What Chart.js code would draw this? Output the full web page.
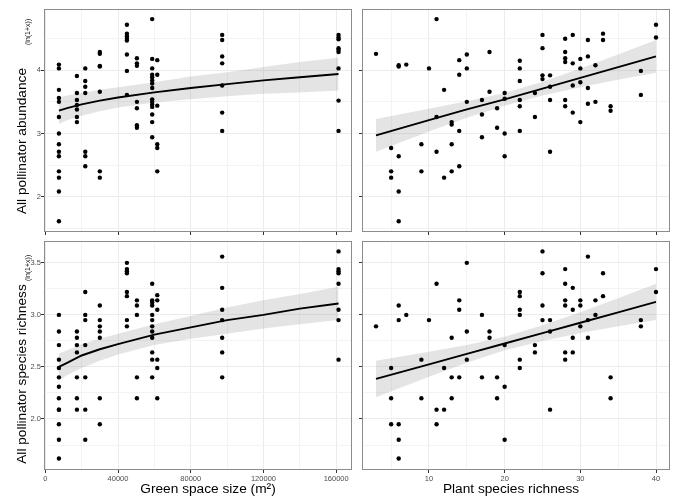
<!DOCTYPE html>
<html><head><meta charset="utf-8">
<script src="https://cdn.jsdelivr.net/npm/chart.js@4/dist/chart.umd.min.js"></script>
<style>
html,body{margin:0;padding:0;background:#fff;}
#wrap{position:relative;width:685px;height:504px;background:#fff;}
canvas{position:absolute;left:0;top:0;}
</style></head><body>
<div id="wrap">
<canvas id="c1" width="685" height="504"></canvas>
<canvas id="c2" width="685" height="504"></canvas>
<canvas id="c3" width="685" height="504"></canvas>
<canvas id="c4" width="685" height="504"></canvas>
</div>
<script>
// ---------------- DATA ----------------
const sizeSites = [7500, 17400, 22000, 30000, 44900, 50400, 58800, 61600, 97300, 161300];

const abundBySize = [
  [4.09,4.03,3.69,3.56,3.50,3.26,3.00,2.83,2.71,2.64,2.40,2.30,2.08,1.61],
  [3.91,3.64,3.53,3.45,3.38,3.26,3.18],
  [4.03,3.83,3.74,3.64,2.71,2.64,2.48],
  [4.29,4.26,4.07,4.06,3.66,2.40,2.30],
  [4.72,4.58,4.54,4.50,4.47,4.25,3.99,3.61],
  [4.19,4.11,4.07,3.50,3.40,3.13,3.09],
  [4.81,4.18,4.03,3.93,3.89,3.84,3.79,3.72,3.54,3.50,3.46,3.42,3.30,3.18,2.94],
  [4.16,3.93,3.44,2.83,2.77,2.40],
  [4.56,4.48,4.22,4.11,3.76,3.33,3.04],
  [4.56,4.52,4.49,4.35,4.32,4.29,4.03,3.52,3.04]
];

const richBySize = [
  [3.00,2.84,2.71,2.57,2.49,2.40,2.31,2.20,2.09,2.09,1.95,1.80,1.62],
  [2.84,2.78,2.71,2.64,2.40,2.20,2.09],
  [3.22,3.00,2.95,2.71,2.40,2.09,1.80],
  [3.09,2.95,2.89,2.84,2.78,2.20,1.95],
  [3.50,3.44,3.42,3.40,3.22,3.18,2.95,2.89],
  [3.14,3.09,3.00,2.40,2.20],
  [3.30,3.14,3.12,3.09,3.00,2.95,2.89,2.84,2.78,2.64,2.57,2.40],
  [3.19,3.14,3.05,2.57,2.49,2.20],
  [3.56,3.26,3.05,2.95,2.78,2.64,2.40],
  [3.61,3.44,3.42,3.40,3.30,3.05,2.95,2.57]
];

const plantAbundX = [3,11,6,6,7,10,14,15,15,14,18,12,15,17,18,20,20,11,13,13,17,19,14,17,19,20,5,6,9,11,13,20,5,5,9,12,13,14,6,6,
  22,22,22,22,22,22,25,25,25,25,24,24,26,26,26,26,28,28,28,28,28,28,29,29,29,29,30,30,30,30,31,31,31,31,32,32,33,33,34,34,38,38,40,40];
const plantAbundY = [4.26,4.81,4.08,4.06,4.09,4.03,4.16,4.25,4.03,3.93,4.29,3.69,3.50,3.53,3.66,3.64,3.55,3.26,3.18,3.14,3.30,3.40,3.04,2.94,3.09,3.00,2.77,2.64,2.83,2.71,2.83,2.64,2.40,2.30,2.40,2.30,2.40,2.48,2.08,1.61,
  4.15,4.03,3.83,3.53,3.43,3.04,4.56,4.35,3.92,3.86,3.64,3.26,3.92,3.74,3.53,2.71,4.50,4.29,4.19,4.13,3.53,3.43,4.56,4.11,3.76,3.33,4.18,4.03,3.81,3.18,4.48,4.22,3.72,3.47,4.08,3.50,4.58,4.48,3.43,3.36,3.99,3.61,4.72,4.52];

const plantRichX = [3,15,11,6,6,7,10,14,14,17,15,13,18,18,20,9,15,5,12,13,14,17,19,20,5,9,13,19,11,12,5,6,11,6,20,6,
  25,31,28,25,33,40,28,29,22,22,33,40,28,28,30,30,32,25,29,22,22,32,25,26,31,30,38,38,26,29,31,24,24,28,29,22,28,22,34,34,26];
const plantRichY = [2.89,3.50,3.30,3.09,2.95,3.00,2.95,3.14,3.05,3.00,2.84,2.78,2.84,2.78,2.71,2.57,2.57,2.49,2.49,2.40,2.40,2.40,2.40,2.31,2.20,2.20,2.20,2.20,2.09,2.09,1.95,1.95,1.95,1.80,1.80,1.62,
  3.61,3.56,3.44,3.40,3.40,3.44,3.30,3.26,3.22,3.18,3.18,3.22,3.14,3.09,3.14,3.09,3.14,3.09,3.05,3.05,3.00,3.00,2.95,2.95,2.95,2.89,2.95,2.89,2.84,2.78,2.78,2.71,2.64,2.64,2.64,2.57,2.57,2.49,2.40,2.20,2.09];

// fitted curves and 95% bands
const sizeFitX     = [7500, 12000, 20000, 30000, 40000, 60000, 80000, 100000, 120000, 140000, 161300];
const abundSizeFit = [3.36, 3.40, 3.46, 3.52, 3.57, 3.65, 3.72, 3.78, 3.84, 3.89, 3.94];
const abundSizeLo  = [3.15, 3.21, 3.28, 3.35, 3.41, 3.49, 3.54, 3.59, 3.63, 3.65, 3.68];
const abundSizeHi  = [3.57, 3.60, 3.64, 3.69, 3.73, 3.81, 3.90, 3.97, 4.05, 4.13, 4.20];
const richSizeFit  = [2.50, 2.54, 2.61, 2.67, 2.72, 2.81, 2.88, 2.95, 3.00, 3.06, 3.11];
const richSizeLo   = [2.37, 2.42, 2.49, 2.56, 2.62, 2.71, 2.77, 2.82, 2.87, 2.91, 2.95];
const richSizeHi   = [2.63, 2.66, 2.72, 2.77, 2.82, 2.91, 2.99, 3.07, 3.14, 3.20, 3.27];

const plantFitX     = [3, 10, 15, 20, 25, 30, 35, 40];
const abundPlantFit = [2.97, 3.21, 3.38, 3.54, 3.71, 3.88, 4.05, 4.22];
const abundPlantLo  = [2.71, 3.03, 3.25, 3.44, 3.60, 3.73, 3.85, 3.96];
const abundPlantHi  = [3.23, 3.39, 3.51, 3.64, 3.82, 4.03, 4.25, 4.48];
const richPlantFit  = [2.385, 2.525, 2.625, 2.725, 2.825, 2.925, 3.025, 3.125];
const richPlantLo   = [2.21, 2.405, 2.54, 2.66, 2.75, 2.825, 2.89, 2.95];
const richPlantHi   = [2.56, 2.645, 2.71, 2.79, 2.90, 3.025, 3.16, 3.30];

// ticks
const sizeTicks = [0, 20000, 40000, 60000, 80000, 100000, 120000, 140000, 160000];
const sizeTickLabels = ['0', '', '40000', '', '80000', '', '120000', '', '160000'];
const plantTicks = [5, 10, 15, 20, 25, 30, 35, 40];
const plantTickLabels = ['', '10', '', '20', '', '30', '', '40'];
const abundTicks = [1.5, 2, 2.5, 3, 3.5, 4, 4.5];
const abundTickLabels = ['', '2', '', '3', '', '4', ''];
const richTicks = [1.75, 2, 2.25, 2.5, 2.75, 3, 3.25, 3.5];
const richTickLabels = ['', '2.0', '', '2.5', '', '3.0', '', '3.5'];

// ---------------- DRAWING ----------------
const FONT = '"Liberation Sans", Arial, Helvetica, sans-serif';
const W = 685, H = 504;
const fromGroups = (xs, groups) => groups.flatMap((g, i) => g.map(y => ({x: xs[i], y})));
const zip = (xs, ys) => xs.map((x, i) => ({x, y: ys[i]}));

function axisCfg(min, max, ticks, labels, showLabels, isX, size) {
  const major = v => labels[ticks.indexOf(v)] !== '';
  return {
    type: 'linear', min, max,
    afterBuildTicks: ax => { ax.ticks = ticks.map(v => ({value: v})); },
    afterFit: ax => {
      if (isX) { ax.height = size; ax.paddingLeft = 0; ax.paddingRight = 0; }
      else { ax.width = size; ax.paddingTop = 0; ax.paddingBottom = 0; }
    },
    ticks: {
      callback: (v) => showLabels ? labels[ticks.indexOf(v)] : '',
      color: '#4D4D4D', padding: isX ? 1 : 0, maxRotation: 0, autoSkip: false,
      font: {family: FONT, size: 7.5}
    },
    grid: {
      color: c => major(c.tick.value) ? '#EBEBEB' : '#F3F3F3',
      lineWidth: 1,
      tickColor: c => major(c.tick.value) ? '#333333' : 'rgba(0,0,0,0)',
      tickLength: 3, tickWidth: 1, drawTicks: true
    },
    border: {display: false}
  };
}

function framePlugin(extra) {
  return {
    id: 'frame',
    afterDraw(chart) {
      const {ctx, chartArea: a} = chart;
      ctx.save();
      ctx.strokeStyle = '#8C8C8C';
      ctx.lineWidth = 1;
      ctx.strokeRect(Math.round(a.left) + 0.5, Math.round(a.top) + 0.5,
        Math.round(a.right - a.left) - 1, Math.round(a.bottom - a.top) - 1);
      ctx.fillStyle = '#000';
      if (extra.yTitle) {
        const t = extra.yTitle;
        ctx.save();
        ctx.translate(t.x, t.cy); ctx.rotate(-Math.PI / 2);
        ctx.font = '13.7px ' + FONT; ctx.textAlign = 'center'; ctx.textBaseline = 'alphabetic';
        ctx.fillText(t.main, 0, 0);
        ctx.restore();
        ctx.save();
        ctx.translate(t.subX, t.subY); ctx.rotate(-Math.PI / 2);
        ctx.font = '7px ' + FONT; ctx.textAlign = 'left'; ctx.textBaseline = 'alphabetic';
        ctx.fillText(t.sub, 0, 0);
        ctx.restore();
      }
      if (extra.xTitle) {
        const t = extra.xTitle;
        ctx.font = '13.7px ' + FONT; ctx.textAlign = 'center'; ctx.textBaseline = 'middle';
        ctx.fillText(t.text, t.cx, t.cy);
      }
      ctx.restore();
    }
  };
}

function panel(id, area, pts, fx, fit, lo, hi, xs, ys, extra) {
  const xAxisH = xs.show ? 20 : 8;
  const yAxisW = ys.show ? area.l : 8;
  new Chart(document.getElementById(id), {
    type: 'line',
    data: {
      datasets: [
        {data: zip(fx, fit), borderColor: '#000', borderWidth: 1.9, pointRadius: 0, fill: false, order: 0, tension: 0},
        {data: pts, showLine: false, pointRadius: 2.2, pointBackgroundColor: '#000', pointBorderWidth: 0, order: 1},
        {data: zip(fx, lo), borderWidth: 0, borderColor: 'rgba(0,0,0,0)', pointRadius: 0, fill: false, order: 3},
        {data: zip(fx, hi), borderWidth: 0, borderColor: 'rgba(0,0,0,0)', pointRadius: 0, fill: 2,
         backgroundColor: 'rgba(150,150,150,0.26)', order: 2}
      ]
    },
    options: {
      responsive: false, animation: false, devicePixelRatio: 1,
      layout: {padding: {left: area.l - yAxisW, top: area.t, right: W - area.r, bottom: H - area.b - xAxisH}},
      plugins: {legend: {display: false}, tooltip: {enabled: false}},
      scales: {
        x: axisCfg(xs.min, xs.max, xs.ticks, xs.labels, xs.show, true, xAxisH),
        y: axisCfg(ys.min, ys.max, ys.ticks, ys.labels, ys.show, false, yAxisW)
      }
    },
    plugins: [framePlugin(extra)]
  });
}

const sizeX = (show) => ({min: -700, max: 168700, ticks: sizeTicks, labels: sizeTickLabels, show});
const plantX = (show) => ({min: 1.15, max: 41.85, ticks: plantTicks, labels: plantTickLabels, show});
const abundY = (show) => ({min: 1.44, max: 4.97, ticks: abundTicks, labels: abundTickLabels, show});
const richY = (show) => ({min: 1.51, max: 3.71, ticks: richTicks, labels: richTickLabels, show});

panel('c1', {l: 44, t: 9, r: 352, b: 232}, fromGroups(sizeSites, abundBySize),
  sizeFitX, abundSizeFit, abundSizeLo, abundSizeHi, sizeX(false), abundY(true),
  {yTitle: {main: 'All pollinator abundance', x: 25.5, cy: 141, sub: '(ln(1+x))', subX: 30, subY: 45}});
panel('c2', {l: 362, t: 9, r: 670, b: 232}, zip(plantAbundX, plantAbundY),
  plantFitX, abundPlantFit, abundPlantLo, abundPlantHi, plantX(false), abundY(false), {});
panel('c3', {l: 44, t: 241, r: 352, b: 470}, fromGroups(sizeSites, richBySize),
  sizeFitX, richSizeFit, richSizeLo, richSizeHi, sizeX(true), richY(true),
  {yTitle: {main: 'All pollinator species richness', x: 25.5, cy: 374, sub: '(ln(1+x))', subX: 30, subY: 281},
   xTitle: {text: 'Green space size (m²)', cx: 208, cy: 489}});
panel('c4', {l: 362, t: 241, r: 670, b: 470}, zip(plantRichX, plantRichY),
  plantFitX, richPlantFit, richPlantLo, richPlantHi, plantX(true), richY(false),
  {xTitle: {text: 'Plant species richness', cx: 511, cy: 489}});
</script>
</body></html>
